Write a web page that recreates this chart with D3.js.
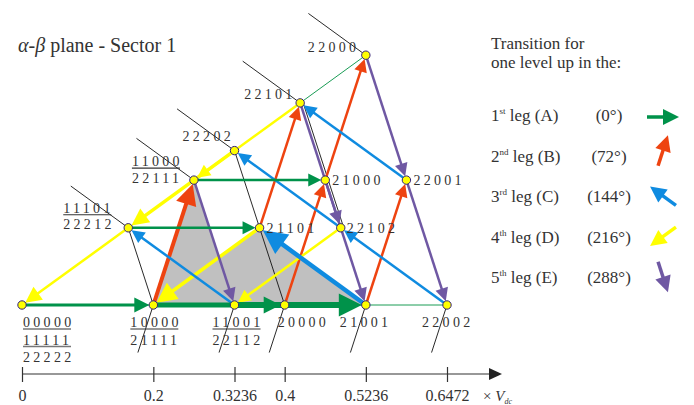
<!DOCTYPE html>
<html>
<head>
<meta charset="utf-8">
<script src="https://cdn.jsdelivr.net/npm/d3@7"></script>
<style>
  body { margin: 0; background: #fff; }
  svg { display: block; font-family: "Liberation Serif", "Times New Roman", serif; }
</style>
</head>
<body>
<svg width="694" height="405"></svg>
<script>
// switching vectors of sector 1, given as components along 0° and along 36° (× Vdc)
const nodeNames = ["00000", "10000", "11001", "20000", "21001", "22002", "11101", "11000", "22202", "22101", "22000", "21101", "22102", "21000", "22001"];
const along0  = [0, 0.2, 0.3236, 0.4, 0.5236, 0.6472, 0, 0, 0, 0, 0, 0.2, 0.3236, 0.2, 0.3236];
const along36 = [0, 0, 0, 0, 0, 0, 0.2, 0.3236, 0.4, 0.5236, 0.6472, 0.2, 0.2, 0.3236, 0.3236];
// redundant states printed under a node name
const aliases = [["00000", "11111", "22222"], ["10000", "21111"], ["11001", "22112"], ["11101", "22212"], ["11000", "22111"]];

// one level up transitions per leg
const legA = [["00000", "10000"], ["10000", "20000"], ["11001", "21001"], ["11101", "21101"], ["11000", "21000"]];
const legB = [["10000", "11000"], ["20000", "21000"], ["21001", "22001"], ["21101", "22101"], ["21000", "22000"]];
const legC = [["11001", "11101"], ["21001", "21101"], ["22002", "22102"], ["22102", "22202"], ["22001", "22101"]];
const legD = [["11101", "00000"], ["22202", "11101"], ["22101", "11000"], ["21101", "10000"], ["22102", "11001"]];
const legE = [["11000", "11001"], ["22101", "22102"], ["21000", "21001"], ["22000", "22001"], ["22001", "22002"]];

const legOrdinal = ["1", "2", "3", "4", "5"];
const legSuffix = ["st", "nd", "rd", "th", "th"];
const legLetter = ["A", "B", "C", "D", "E"];
const legAngle = [0, 72, 144, 216, 288];

const shaded = [["10000", "11000", "11001"], ["10000", "21101", "21001"]];
const thinBlack = [["11101", "10000"], ["22202", "20000"], ["22101", "22102"]];

const axisTicks = [0, 0.2, 0.3236, 0.4, 0.5236, 0.6472];
const tickLabels = ["0", "0.2", "0.3236", "0.4", "0.5236", "0.6472"];

// ---- styles ----
const legColor = ["#00924a", "#ee4310", "#0f8be0", "#ffff00", "#6f58a3"];
const ink = "#333";
// stroke width, head length for emphasised arrows
const heavy = {
  "00000-10000": [3, 15], "10000-20000": [5, 17], "11001-21001": [6, 23],
  "10000-11000": [4, 21], "21001-21101": [4.5, 24], "21101-10000": [3.5, 20],
  "22202-11101": [3.5, 17], "11101-00000": [2.5, 16]
};
// label placement relative to node: [dx, dy]
const labelAt = {
  "00000": [1, 22], "10000": [-23, 22], "11001": [-22, 22], "20000": [-7, 22], "21001": [-26, 22], "22002": [-25, 22],
  "11101": [-65, -15], "11000": [-62, -14], "22202": [-52, -10], "22101": [-56, -4], "22000": [-58, -3],
  "21101": [7, 5], "22102": [6, 5], "21000": [7, 5], "22001": [7, 5]
};
const upLeft = ["11101", "11000", "22202", "22101", "22000"];
const downLeft = ["10000", "11001", "20000", "21001", "22002"];
// legend arrow centre offset above each row's baseline
const legendLift = [4, 11, 6, 6, 6];

const svg = d3.select("svg");

const x = d3.scaleLinear().domain([0, 0.6472]).range([22, 447]);
const y = d3.scaleLinear().domain([0, 0.6472]).range([305, 305 - 425]);

const c36 = Math.cos(Math.PI / 5), s36 = Math.sin(Math.PI / 5);
const pos = {};
nodeNames.forEach((n, i) => {
  pos[n] = [x(along0[i] + along36[i] * c36), y(along36[i] * s36)];
});

// gray triangles
svg.append("g").selectAll("path")
  .data(shaded)
  .join("path")
  .attr("d", (d) => "M" + d.map((n) => pos[n].join(",")).join("L") + "Z")
  .attr("fill", "#c0c0c0");

// sector boundary
svg.append("path")
  .attr("d", `M${pos["22000"]}L${pos["00000"]}L${pos["22002"]}`)
  .attr("fill", "none")
  .attr("stroke", "#1a9c55")
  .attr("stroke-width", 1);

// leader lines and thin black links
const lead = svg.append("g").attr("stroke", "#111").attr("stroke-width", 0.9);
upLeft.forEach((n) => {
  const p = pos[n];
  lead.append("line").attr("x1", p[0]).attr("y1", p[1])
    .attr("x2", p[0] - 71 * c36).attr("y2", p[1] - 71 * s36);
});
downLeft.forEach((n) => {
  const p = pos[n];
  const a = 72 * Math.PI / 180;
  lead.append("line").attr("x1", p[0]).attr("y1", p[1])
    .attr("x2", p[0] - 50 * Math.cos(a)).attr("y2", p[1] + 50 * Math.sin(a));
});
thinBlack.forEach((d, i) => {
  const off = i === 2 ? 3 : 0;
  lead.append("line")
    .attr("x1", pos[d[0]][0] + off).attr("y1", pos[d[0]][1])
    .attr("x2", pos[d[1]][0] + off).attr("y2", pos[d[1]][1]);
});

function arrow(g, p1, p2, color, w, h, shorten) {
  const dx = p2[0] - p1[0], dy = p2[1] - p1[1];
  const L = Math.hypot(dx, dy);
  const ux = dx / L, uy = dy / L;
  const tip = [p2[0] - ux * shorten, p2[1] - uy * shorten];
  const base = [tip[0] - ux * h, tip[1] - uy * h];
  const hw = h * 0.5;
  g.append("line")
    .attr("x1", p1[0]).attr("y1", p1[1])
    .attr("x2", base[0] + ux).attr("y2", base[1] + uy)
    .attr("stroke", color).attr("stroke-width", w);
  g.append("path")
    .attr("d", `M${tip[0]},${tip[1]}L${base[0] - uy * hw},${base[1] + ux * hw}L${base[0] + uy * hw},${base[1] - ux * hw}Z`)
    .attr("fill", color);
}

const legs = [legA, legB, legC, legD, legE];
const drawOrder = [1, 3, 2, 4, 0];
const arrows = svg.append("g");
drawOrder.forEach((k) => {
  legs[k].forEach((d) => {
    const st = heavy[d[0] + "-" + d[1]] || [2.5, 13];
    arrow(arrows, pos[d[0]], pos[d[1]], legColor[k], st[0], st[1], 4);
  });
});

// nodes
svg.append("g").selectAll("circle")
  .data(nodeNames)
  .join("circle")
  .attr("cx", (n) => pos[n][0])
  .attr("cy", (n) => pos[n][1])
  .attr("r", 4.2)
  .attr("fill", "#ffff00")
  .attr("stroke", "#33207a")
  .attr("stroke-width", 1);

// node labels
const labels = svg.append("g")
  .attr("font-size", 14)
  .attr("fill", ink)
  .style("letter-spacing", "3.3px");
nodeNames.forEach((n) => {
  const p = pos[n], o = labelAt[n];
  const lx = p[0] + o[0], ly = p[1] + o[1];
  const al = aliases.find((a) => a[0] === n) || [n];
  const below = downLeft.includes(n) || n === "00000";
  const gap = below ? 17.5 : 16.5;
  al.forEach((s, j) => {
    labels.append("text").attr("x", lx).attr("y", ly + j * gap).text(s);
    if (j < al.length - 1) {
      labels.append("line")
        .attr("x1", lx).attr("x2", lx + 48)
        .attr("y1", ly + j * gap + 2).attr("y2", ly + j * gap + 2)
        .attr("stroke", j === 1 ? "#777" : ink).attr("stroke-width", j === 1 ? 1.6 : 1.1);
    }
  });
});

// title
const title = svg.append("text").attr("x", 18).attr("y", 52).attr("font-size", 20).attr("fill", ink);
title.append("tspan").attr("font-style", "italic").text("α");
title.append("tspan").text("-");
title.append("tspan").attr("font-style", "italic").text("β");
title.append("tspan").text(" plane - Sector 1");

// horizontal axis
const axisG = svg.append("g")
  .attr("transform", "translate(0,374)")
  .call(d3.axisBottom(x).tickValues(axisTicks).tickFormat((d, i) => tickLabels[i]).tickSize(8).tickPadding(8));
axisG.select(".domain").remove();
axisG.selectAll(".tick line").attr("y1", -7).attr("stroke", ink).attr("stroke-width", 1.2);
axisG.selectAll(".tick text").attr("font-size", 16).attr("font-family", "Liberation Serif").attr("fill", ink);
axisG.append("line").attr("x1", 22).attr("x2", 490).attr("stroke", ink).attr("stroke-width", 1.2);
axisG.append("path").attr("d", "M489,-6L502,0L489,6Z").attr("fill", "#222");

const unit = svg.append("text").attr("x", 483).attr("y", 401).attr("font-size", 15).attr("fill", ink);
unit.append("tspan").text("× ");
unit.append("tspan").attr("font-style", "italic").text("V");
unit.append("tspan").attr("font-style", "italic").attr("font-size", 8).attr("dy", 3).text("dc");

// legend
const legend = svg.append("g").attr("font-size", 17).attr("fill", ink);
legend.append("text").attr("x", 491).attr("y", 49).text("Transition for");
legend.append("text").attr("x", 491).attr("y", 68).text("one level up in the:");
legOrdinal.forEach((o, i) => {
  const by = 121 + i * 40.5;
  const t = legend.append("text").attr("x", 491).attr("y", by);
  t.append("tspan").text(o);
  t.append("tspan").attr("font-size", 9).attr("dy", -7).text(legSuffix[i]);
  t.append("tspan").attr("dy", 7).text(" leg (" + legLetter[i] + ")");
  legend.append("text").attr("x", 609).attr("y", by).attr("text-anchor", "middle")
    .text("(" + legAngle[i] + "°)");
  const a = legAngle[i] * Math.PI / 180;
  const cx = 663, cy = by - legendLift[i];
  const p1 = [cx - 16 * Math.cos(a), cy + 16 * Math.sin(a)];
  const p2 = [cx + 16 * Math.cos(a), cy - 16 * Math.sin(a)];
  arrow(legend, p1, p2, legColor[i], 3.5, 16, 0);
});
</script>
</body>
</html>
